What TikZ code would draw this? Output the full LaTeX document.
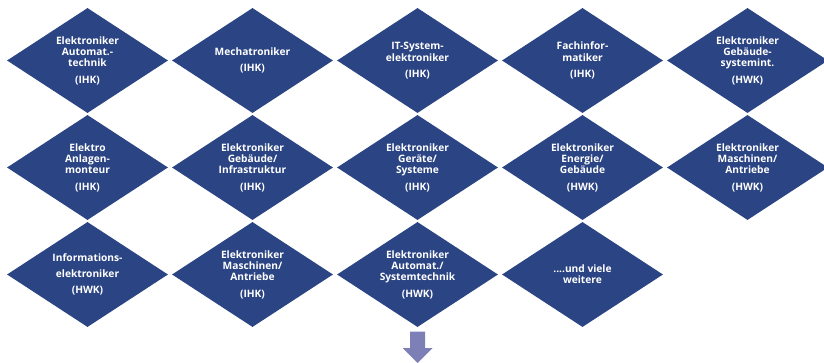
\documentclass[tikz,border=0pt]{standalone}
\usepackage{fontspec}
\setmainfont{Open Sans}
\usetikzlibrary{shapes.geometric}
\definecolor{dia}{HTML}{2B4483}
\definecolor{arr}{HTML}{7C80B6}
\tikzset{
  job/.style={shape=diamond, fill=dia, draw=none, inner sep=0pt,
    minimum width=161pt, minimum height=105pt, aspect=1.53,
    text=white, font=\bfseries\fontsize{10.2}{11.3}\selectfont, align=center},
  downarrow/.style={fill=arr, draw=none}
}
\begin{document}
\begin{tikzpicture}[x=1pt,y=-1pt]
\useasboundingbox (0,0) rectangle (824,363);
\clip (0,0) rectangle (824,363);
% row 1
\node[job] (a1) at (87.5,60.5)  {Elektroniker\\Automat.-\\technik\\[5pt](IHK)};
\node[job] (a2) at (252.5,60.5) {Mechatroniker\\[5pt](IHK)};
\node[job] (a3) at (417.5,60.5) {IT-System-\\[1pt]elektroniker\\[5pt](IHK)};
\node[job] (a4) at (582.5,60.5) {Fachinfor-\\matiker\\[5pt](IHK)};
\node[job] (a5) at (747.5,60.5) {Elektroniker\\Gebäude-\\systemint.\\[5pt](HWK)};
% row 2
\node[job] (b1) at (87.5,167.5)  {Elektro\\Anlagen-\\monteur\\[5pt](IHK)};
\node[job] (b2) at (252.5,167.5) {Elektroniker\\Gebäude/\\Infrastruktur\\[5pt](IHK)};
\node[job] (b3) at (417.5,167.5) {Elektroniker\\Geräte/\\Systeme\\[5pt](IHK)};
\node[job] (b4) at (582.5,167.5) {Elektroniker\\Energie/\\Gebäude\\[5pt](HWK)};
\node[job] (b5) at (747.5,167.5) {Elektroniker\\Maschinen/\\Antriebe\\[5pt](HWK)};
% row 3
\node[job] (c1) at (87.5,274.5)  {Informations-\\[5pt]elektroniker\\[5pt](HWK)};
\node[job] (c2) at (252.5,274.5) {Elektroniker\\Maschinen/\\Antriebe\\[5pt](IHK)};
\node[job] (c3) at (417.5,274.5) {Elektroniker\\Automat./\\Systemtechnik\\[5pt](HWK)};
\node[job] (c4) at (582.5,274.5) {....und viele\\weitere};
% arrow
\fill[downarrow] (410,331.7) -- (425,331.7) -- (425,348) -- (432.5,348)
  -- (417.5,363) -- (402.5,348) -- (410,348) -- cycle;
\end{tikzpicture}
\end{document}
